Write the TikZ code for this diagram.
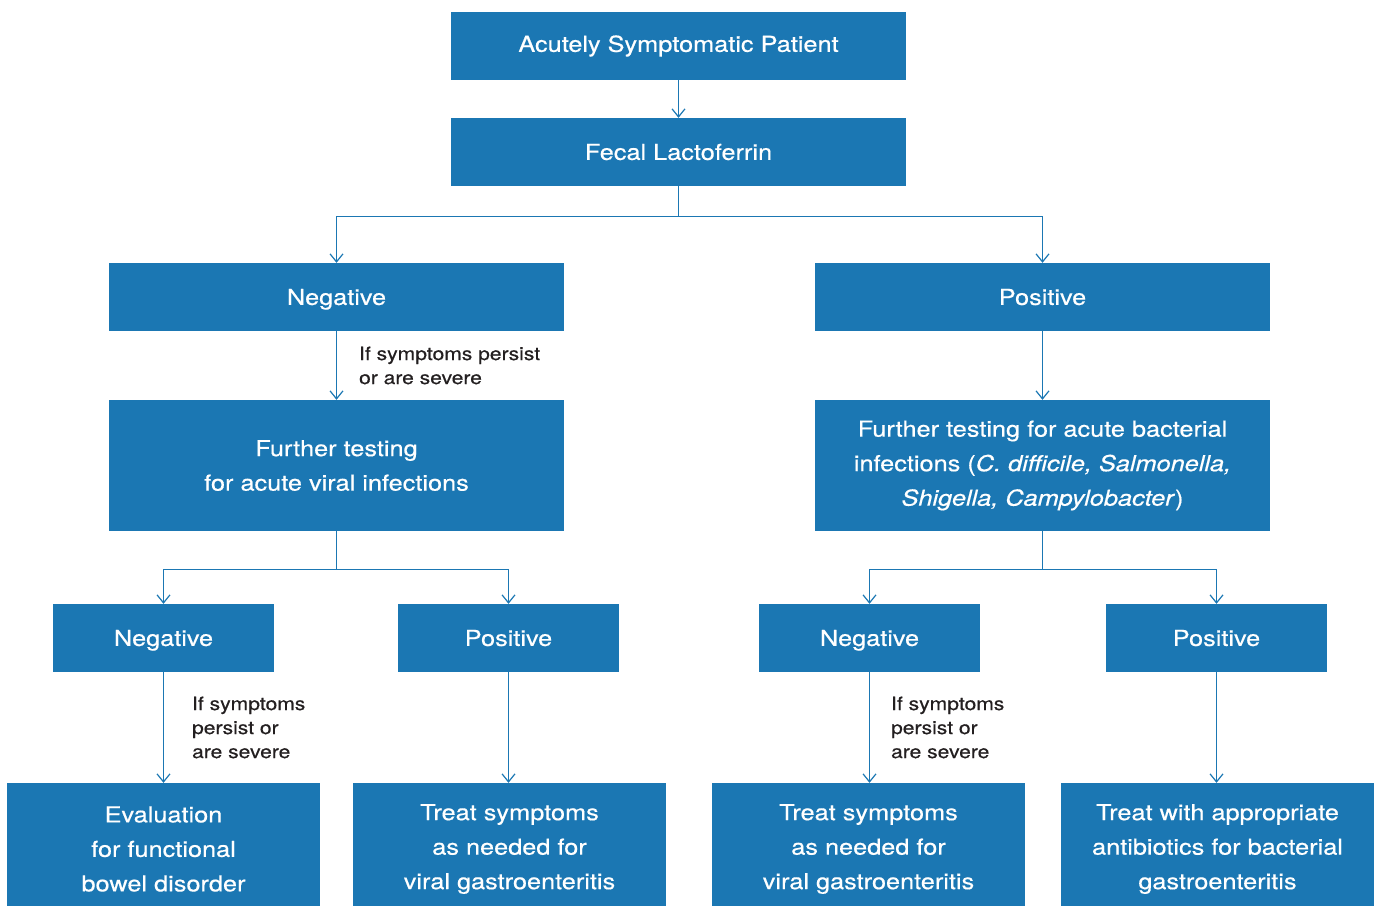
\documentclass[tikz,border=0pt]{standalone}
\usepackage{fontspec}
\setmainfont{TeX Gyre Heros}[FakeStretch=1.15,FakeBold=0.5]
\usepackage{tikz}
\usetikzlibrary{arrows.meta,calc,positioning}
\definecolor{boxblue}{HTML}{1B77B3}
\definecolor{condgray}{HTML}{231F20}
\tikzset{%
	block/.style   = {fill=boxblue, text=white, inner sep=0pt, align=center, minimum width=455pt, minimum height=68pt, font=\fontsize{22}{34.5}\selectfont},
	oneline/.style = {text height=15.8pt, text depth=0pt},
	small/.style   = {block, oneline, minimum width=221pt},
	result/.style  = {block, minimum width=313pt, minimum height=132pt},
	cond/.style    = {text=condgray, inner sep=0pt, align=left, font=\fontsize{18.3}{24}\selectfont},
	arrow/.style   = {draw=boxblue, line width=1.2pt, -{Straight Barb[length=8pt,width=13pt]}},
}
\begin{document}
\begin{tikzpicture}[x=1pt,y=-1pt]
	\useasboundingbox (0,0) rectangle (1376,905);
	
	% top of the tree
	\node[block] (patient) at (678.5,46) {Acutely Symptomatic Patient};
	\node[block] (lacto) at (678.5,152) {Fecal Lactoferrin};
	\node[block, oneline] (neg) at (336.5,297) {Negative};
	\node[block, oneline] (pos) at (1042.5,297) {Positive};
	\node[block, minimum height=131pt] (viral) at (336.5,465.5) {Further testing\\for acute viral infections};
	\node[block, minimum height=131pt] (bact) at (1042.5,465.5) {Further testing for acute bacterial\\infections (\textit{C. difficile, Salmonella,}\\\textit{Shigella, Campylobacter})};
	
	% second level
	\node[small] (vneg) at (163.5,638) {Negative};
	\node[small] (vpos) at (508.5,638) {Positive};
	\node[small] (bneg) at (869.5,638) {Negative};
	\node[small] (bpos) at (1216.5,638) {Positive};
	
	% outcomes
	\node[result] (funct) at (163.5,849) {Evaluation\\for functional\\bowel disorder};
	\node[result] (vtreat) at (509.5,849) {Treat symptoms\\as needed for\\viral gastroenteritis};
	\node[result] (btreat) at (868.5,849) {Treat symptoms\\as needed for\\viral gastroenteritis};
	\node[result] (abx) at (1217.5,849) {Treat with appropriate\\antibiotics for bacterial\\gastroenteritis};
	
	% connectors
	\draw[arrow] (patient) -- (lacto);
	\draw[arrow] (lacto.south) -- ++(0,30) -| (neg.north);
	\draw[arrow] (lacto.south) -- ++(0,30) -| (pos.north);
	\draw[arrow] (neg) -- node[cond, right=22pt] {If symptoms persist\\or are severe} (viral);
	\draw[arrow] (pos) -- (bact);
	\draw[arrow] (viral.south) -- ++(0,38) -| (vneg.north);
	\draw[arrow] (viral.south) -- ++(0,38) -| (vpos.north);
	\draw[arrow] (bact.south) -- ++(0,38) -| (bneg.north);
	\draw[arrow] (bact.south) -- ++(0,38) -| (bpos.north);
	\draw[arrow] (vneg) -- node[cond, right=28pt] {If symptoms\\persist or\\are severe} (vneg |- funct.north);
	\draw[arrow] (vpos) -- (vpos |- vtreat.north);
	\draw[arrow] (bneg) -- node[cond, right=21pt] {If symptoms\\persist or\\are severe} (bneg |- btreat.north);
	\draw[arrow] (bpos) -- (bpos |- abx.north);
\end{tikzpicture}
\end{document}
